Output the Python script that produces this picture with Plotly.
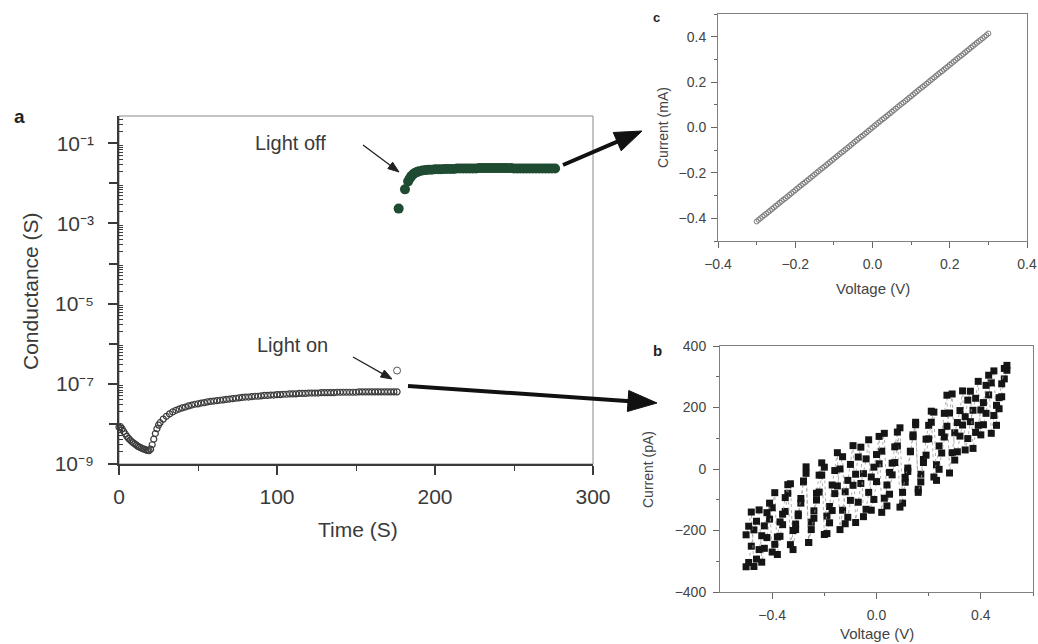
import math
import numpy as np
import plotly.graph_objects as go

W, H = 1038, 644
FONT = "Liberation Sans, Arial, Helvetica, sans-serif"
INK = "#3a3a3a"

# ---------------- panel a : conductance vs time ----------------
time_on = [0, 1, 2, 3, 4, 5, 6, 7, 8, 9, 10, 11, 12, 13, 14, 15, 16, 17, 18, 19,
           20, 21, 22, 23, 24, 25, 26,
           28, 30, 32, 34, 36, 38, 40, 42, 44, 46, 48, 50, 52, 54, 56, 58, 60, 62,
           64, 66, 68, 70, 72, 74, 76, 78, 80, 82, 84, 86, 88, 90, 92, 94, 96, 98,
           100, 102, 104, 106, 108, 110, 112, 114, 116, 118, 120, 122, 124, 126,
           128, 130, 132, 134, 136, 138, 140, 142, 144, 146, 148, 150, 152, 154,
           156, 158, 160, 162, 164, 166, 168, 170, 172, 174, 176]
log_g_on = [-8.08, -8.07, -8.12, -8.19, -8.25, -8.31, -8.36, -8.40, -8.44, -8.47,
            -8.50, -8.53, -8.56, -8.58, -8.60, -8.62, -8.63, -8.65, -8.66, -8.67,
            -8.63, -8.52, -8.38, -8.24, -8.12, -8.03, -7.97,
            -7.88, -7.81, -7.75, -7.70, -7.66, -7.63, -7.60, -7.58, -7.55, -7.53,
            -7.51, -7.50, -7.48, -7.47, -7.45, -7.44, -7.43, -7.42, -7.41, -7.40,
            -7.39, -7.38, -7.37, -7.36, -7.35, -7.34, -7.33, -7.33, -7.32, -7.31,
            -7.31, -7.30, -7.29, -7.29, -7.28, -7.28, -7.27, -7.27, -7.26, -7.26,
            -7.25, -7.25, -7.25, -7.24, -7.24, -7.24, -7.23, -7.23, -7.23, -7.23,
            -7.22, -7.22, -7.22, -7.22, -7.22, -7.21, -7.21, -7.21, -7.21, -7.21,
            -7.21, -7.21, -7.20, -7.20, -7.20, -7.20, -7.20, -7.20, -7.20, -7.20,
            -7.20, -7.20, -7.20, -7.20, -7.20]
time_spike = [176]
log_g_spike = [-6.67]

time_off = [177, 181, 183, 184, 185, 186, 187, 188, 189, 190, 192, 194, 196, 198,
            200, 202, 204, 206, 208, 210, 212, 214, 216, 218, 220, 222, 224, 226,
            228, 230, 232, 234, 236, 238, 240, 242, 244, 246, 248, 250, 252, 254,
            256, 258, 260, 262, 264, 266, 268, 270, 272, 274, 276]
log_g_off = [-2.63, -2.15, -1.95, -1.88, -1.82, -1.78, -1.75, -1.73, -1.71, -1.70,
             -1.68, -1.67, -1.66, -1.66, -1.65, -1.65, -1.65, -1.64, -1.64, -1.64,
             -1.64, -1.63, -1.63, -1.63, -1.63, -1.63, -1.63, -1.63, -1.62, -1.62,
             -1.62, -1.62, -1.62, -1.62, -1.62, -1.62, -1.62, -1.62, -1.62, -1.63,
             -1.63, -1.63, -1.63, -1.63, -1.63, -1.63, -1.63, -1.63, -1.63, -1.63,
             -1.63, -1.63, -1.63]

labelled_exponents = [-9, -7, -5, -3, -1]
unlabelled_exponents = [-8, -6, -4, -2]
time_ticks = [0, 100, 200, 300]

# ---------------- panel c : I-V, light off (mA) ----------------
volt_c = [-0.300, -0.295, -0.290, -0.285, -0.280, -0.275, -0.270, -0.265, -0.260, -0.255,
          -0.250, -0.245, -0.240, -0.235, -0.230, -0.225, -0.220, -0.215, -0.210, -0.205,
          -0.200, -0.195, -0.190, -0.185, -0.180, -0.175, -0.170, -0.165, -0.160, -0.155,
          -0.150, -0.145, -0.140, -0.135, -0.130, -0.125, -0.120, -0.115, -0.110, -0.105,
          -0.100, -0.095, -0.090, -0.085, -0.080, -0.075, -0.070, -0.065, -0.060, -0.055,
          -0.050, -0.045, -0.040, -0.035, -0.030, -0.025, -0.020, -0.015, -0.010, -0.005,
          0.000,
          0.005, 0.010, 0.015, 0.020, 0.025, 0.030, 0.035, 0.040, 0.045, 0.050,
          0.055, 0.060, 0.065, 0.070, 0.075, 0.080, 0.085, 0.090, 0.095, 0.100,
          0.105, 0.110, 0.115, 0.120, 0.125, 0.130, 0.135, 0.140, 0.145, 0.150,
          0.155, 0.160, 0.165, 0.170, 0.175, 0.180, 0.185, 0.190, 0.195, 0.200,
          0.205, 0.210, 0.215, 0.220, 0.225, 0.230, 0.235, 0.240, 0.245, 0.250,
          0.255, 0.260, 0.265, 0.270, 0.275, 0.280, 0.285, 0.290, 0.295, 0.300]
current_c = [-0.414, -0.407, -0.400, -0.393, -0.386, -0.380, -0.373, -0.366, -0.359, -0.352,
             -0.345, -0.338, -0.331, -0.324, -0.317, -0.311, -0.304, -0.297, -0.290, -0.283,
             -0.276, -0.269, -0.262, -0.255, -0.248, -0.242, -0.235, -0.228, -0.221, -0.214,
             -0.207, -0.200, -0.193, -0.186, -0.179, -0.173, -0.166, -0.159, -0.152, -0.145,
             -0.138, -0.131, -0.124, -0.117, -0.110, -0.104, -0.097, -0.090, -0.083, -0.076,
             -0.069, -0.062, -0.055, -0.048, -0.041, -0.035, -0.028, -0.021, -0.014, -0.007,
             0.000,
             0.007, 0.014, 0.021, 0.028, 0.035, 0.041, 0.048, 0.055, 0.062, 0.069,
             0.076, 0.083, 0.090, 0.097, 0.104, 0.110, 0.117, 0.124, 0.131, 0.138,
             0.145, 0.152, 0.159, 0.166, 0.173, 0.179, 0.186, 0.193, 0.200, 0.207,
             0.214, 0.221, 0.228, 0.235, 0.242, 0.248, 0.255, 0.262, 0.269, 0.276,
             0.283, 0.290, 0.297, 0.304, 0.311, 0.317, 0.324, 0.331, 0.338, 0.345,
             0.352, 0.359, 0.366, 0.373, 0.380, 0.386, 0.393, 0.400, 0.407, 0.414]

# ---------------- panel b : I-V, light on (pA) ----------------
volt_sweep = [-0.50, -0.49, -0.48, -0.47, -0.46, -0.45, -0.44, -0.43, -0.42, -0.41,
              -0.40, -0.39, -0.38, -0.37, -0.36, -0.35, -0.34, -0.33, -0.32, -0.31,
              -0.30, -0.29, -0.28, -0.27, -0.26, -0.25, -0.24, -0.23, -0.22, -0.21,
              -0.20, -0.19, -0.18, -0.17, -0.16, -0.15, -0.14, -0.13, -0.12, -0.11,
              -0.10, -0.09, -0.08, -0.07, -0.06, -0.05, -0.04, -0.03, -0.02, -0.01,
              0.00, 0.01, 0.02, 0.03, 0.04, 0.05, 0.06, 0.07, 0.08, 0.09,
              0.10, 0.11, 0.12, 0.13, 0.14, 0.15, 0.16, 0.17, 0.18, 0.19,
              0.20, 0.21, 0.22, 0.23, 0.24, 0.25, 0.26, 0.27, 0.28, 0.29,
              0.30, 0.31, 0.32, 0.33, 0.34, 0.35, 0.36, 0.37, 0.38, 0.39,
              0.40, 0.41, 0.42, 0.43, 0.44, 0.45, 0.46, 0.47, 0.48, 0.49, 0.50]
current_fwd = [-318, -304, -251, -198, -170, -133, -303, -258, -223, -163,
               -126, -77, -278, -219, -181, -138, -79, -48, -262, -197,
               -152, -111, -42, 7, -239, -173, -136, -79, -20, 20,
               -213, -153, -122, -52, -5, 53, -197, -134, -74, -37,
               15, 76, -174, -108, -47, -15, 33, 95, -134, -99,
               -41, 17, 58, 116, -120, -82, -19, 21, 75, 134,
               -111, -43, -8, 58, 105, 152, -66, -17, 31, 97,
               142, 188, -26, 14, 75, 119, 181, 240, -13, 53,
               118, 151, 190, 254, 62, 99, 154, 191, 230, 285,
               111, 144, 181, 241, 280, 319, 142, 196, 235, 293, 321]
# return sweep, +0.5 V back to -0.5 V
current_bwd = [337, 327, 277, 232, 207, 174, 116, 305, 272, 216,
               192, 142, 119, 67, 253, 224, 170, 143, 107, 56,
               29, 244, 182, 139, 104, 52, -1, -37, 185, 152,
               98, 45, 21, -42, -76, 144, 111, 56, 3, -27,
               -76, -124, 120, 72, 19, -11, -52, -95, -141, 106,
               47, 6, -26, -76, -131, -155, 71, 39, -17, -53,
               -102, -157, -178, 40, 0, -55, -80, -135, -175, -210,
               6, -20, -75, -101, -160, -197, -239, -14, -39, -96,
               -146, -179, -200, -246, -51, -93, -147, -172, -221, -245,
               -270, -111, -142, -185, -217, -262, -293, -317, -140, -186, -214]

SUPERSCRIPT = str.maketrans("-0123456789", "\u207b\u2070\u00b9\u00b2\u00b3\u2074\u2075\u2076\u2077\u2078\u2079")


def to_paper(x, y):
    return x / W, 1 - y / H


def arrow(x0, y0, x1, y1, lw, head_len, head_w, color):
    """Straight arrow between two page positions (pixels), drawn as shapes."""
    dx, dy = x1 - x0, y1 - y0
    length = math.hypot(dx, dy)
    ux, uy = dx / length, dy / length
    bx, by = x1 - ux * head_len, y1 - uy * head_len
    nx, ny = -uy, ux
    a = to_paper(x0, y0)
    b = to_paper(bx + ux * 2, by + uy * 2)
    tip = to_paper(x1, y1)
    c1 = to_paper(bx + nx * head_w / 2, by + ny * head_w / 2)
    c2 = to_paper(bx - nx * head_w / 2, by - ny * head_w / 2)
    line = dict(type="line", xref="paper", yref="paper",
                x0=a[0], y0=a[1], x1=b[0], y1=b[1],
                line=dict(color=color, width=lw))
    head = dict(type="path", xref="paper", yref="paper",
                path=f"M{tip[0]},{tip[1]} L{c1[0]},{c1[1]} L{c2[0]},{c2[1]} Z",
                fillcolor=color, line=dict(color=color, width=1))
    return [line, head]


fig = go.Figure()

# panel a traces
fig.add_trace(go.Scatter(
    x=time_on, y=10 ** np.array(log_g_on), mode="markers", cliponaxis=False,
    marker=dict(symbol="circle-open", size=6, color="#3c3c3c", line=dict(width=1.2)),
    xaxis="x", yaxis="y"))
fig.add_trace(go.Scatter(
    x=time_spike, y=10 ** np.array(log_g_spike), mode="markers", cliponaxis=False,
    marker=dict(symbol="circle-open", size=7, color="#555555", line=dict(width=1)),
    xaxis="x", yaxis="y"))
fig.add_trace(go.Scatter(
    x=time_off, y=10 ** np.array(log_g_off), mode="markers", cliponaxis=False,
    marker=dict(symbol="circle", size=10, color="#1e4b31"),
    xaxis="x", yaxis="y"))
# carrier for the unlabelled decade ticks
fig.add_trace(go.Scatter(x=[], y=[], mode="markers", xaxis="x", yaxis="y4",
                         hoverinfo="skip"))

# panel c trace
fig.add_trace(go.Scatter(
    x=volt_c, y=current_c, mode="markers",
    marker=dict(symbol="circle-open", size=5, color="#7a7a7a", line=dict(width=1)),
    xaxis="x2", yaxis="y2"))

# panel b traces
for cur, volts in ((current_fwd, volt_sweep), (current_bwd, volt_sweep[::-1])):
    fig.add_trace(go.Scatter(
        x=volts, y=cur, mode="lines+markers",
        line=dict(color="#9a9a9a", width=0.8, dash="dot"),
        marker=dict(symbol="square", size=7, color="#151515"),
        xaxis="x3", yaxis="y3"))

labelled_vals = [10.0 ** e for e in labelled_exponents]
labelled_text = ["10" + str(e).translate(SUPERSCRIPT) for e in labelled_exponents]
unlabelled_vals = [10.0 ** e for e in unlabelled_exponents]
minor_log = [m * 10.0 ** e for e in range(-9, -1 + 1) for m in range(2, 10)]

big_tick_font = dict(family=FONT, size=21, color=INK)
small_tick_font = dict(family=FONT, size=14, color="#444444")
Y_RANGE_A = [-9, -0.32]


def minus(v, fmt):
    return (fmt % v).replace("-", "\u2212")


fig.update_layout(
    width=W, height=H, margin=dict(l=0, r=0, t=0, b=0),
    paper_bgcolor="white", plot_bgcolor="white", showlegend=False,
    font=dict(family=FONT, color=INK),
    xaxis=dict(
        domain=[119 / W, 593 / W], anchor="y", range=[0, 300], automargin=False,
        showline=True, linecolor=INK, linewidth=1.5, showgrid=False, zeroline=False,
        ticks="outside", ticklen=9, tickwidth=1.5, tickcolor=INK,
        tickmode="array", tickvals=time_ticks, tickfont=big_tick_font,
        ticklabelstandoff=4,
        minor=dict(tickmode="array", tickvals=[50, 150, 250], ticks="outside",
                   ticklen=5, tickwidth=1.2, tickcolor=INK)),
    yaxis=dict(
        domain=[1 - 464 / H, 1 - 116 / H], anchor="x", type="log", range=Y_RANGE_A,
        automargin=False,
        showline=True, linecolor=INK, linewidth=1.5, showgrid=False, zeroline=False,
        ticks="outside", ticklen=9, tickwidth=1.5, tickcolor=INK,
        tickmode="array", tickvals=labelled_vals, ticktext=labelled_text,
        tickfont=dict(family=FONT, size=21, color=INK),
        ticklabelstandoff=10,
        minor=dict(tickmode="array", tickvals=minor_log, ticks="inside",
                   ticklen=4, tickwidth=1, tickcolor=INK)),
    yaxis4=dict(
        overlaying="y", anchor="x", side="left", type="log", range=Y_RANGE_A,
        automargin=False, showline=False, showgrid=False, zeroline=False,
        showticklabels=False, ticks="outside", ticklen=9, tickwidth=1.5,
        tickcolor=INK, tickmode="array", tickvals=unlabelled_vals),
    xaxis2=dict(
        domain=[718 / W, 1027 / W], anchor="y2", range=[-0.4, 0.4], automargin=False,
        showline=True, mirror=True, linecolor="#808080", linewidth=1,
        showgrid=False, zeroline=False, ticks="outside", ticklen=6, tickcolor="#666666",
        tickmode="array", tickvals=[-0.4, -0.2, 0.0, 0.2, 0.4],
        ticktext=[minus(v, "%.1f") for v in [-0.4, -0.2, 0.0, 0.2, 0.4]],
        tickfont=small_tick_font, ticklabelstandoff=4,
        minor=dict(tickmode="array", tickvals=[-0.3, -0.1, 0.1, 0.3], ticks="outside",
                   ticklen=3, tickcolor="#666666")),
    yaxis2=dict(
        domain=[1 - 241 / H, 1 - 14 / H], anchor="x2", range=[-0.5, 0.5],
        automargin=False,
        showline=True, mirror=True, linecolor="#808080", linewidth=1,
        showgrid=False, zeroline=False, ticks="outside", ticklen=6, tickcolor="#666666",
        tickmode="array", tickvals=[-0.4, -0.2, 0.0, 0.2, 0.4],
        ticktext=[minus(v, "%.1f") for v in [-0.4, -0.2, 0.0, 0.2, 0.4]],
        tickfont=small_tick_font, ticklabelstandoff=2,
        minor=dict(tickmode="array", tickvals=[-0.5, -0.3, -0.1, 0.1, 0.3, 0.5],
                   ticks="outside", ticklen=3, tickcolor="#666666")),
    xaxis3=dict(
        domain=[720 / W, 1033 / W], anchor="y3", range=[-0.6, 0.6], automargin=False,
        showline=True, mirror=True, linecolor="#808080", linewidth=1,
        showgrid=False, zeroline=False, ticks="outside", ticklen=6, tickcolor="#666666",
        tickmode="array", tickvals=[-0.4, 0.0, 0.4],
        ticktext=[minus(v, "%.1f") for v in [-0.4, 0.0, 0.4]],
        tickfont=small_tick_font, ticklabelstandoff=4,
        minor=dict(tickmode="array", tickvals=[-0.2, 0.2, 0.6], ticks="outside",
                   ticklen=3, tickcolor="#666666")),
    yaxis3=dict(
        domain=[1 - 592 / H, 1 - 346 / H], anchor="x3", range=[-400, 400],
        automargin=False,
        showline=True, mirror=True, linecolor="#808080", linewidth=1,
        showgrid=False, zeroline=False, ticks="outside", ticklen=6, tickcolor="#666666",
        tickmode="array", tickvals=[-400, -200, 0, 200, 400],
        ticktext=[minus(v, "%d") for v in [-400, -200, 0, 200, 400]],
        tickfont=small_tick_font, ticklabelstandoff=4,
        minor=dict(tickmode="array", tickvals=[-300, -100, 100, 300],
                   ticks="outside", ticklen=3, tickcolor="#666666")),
)


def label(text, x, y, size, angle=0, bold=False, color=INK):
    px, py = to_paper(x, y)
    return dict(text=f"<b>{text}</b>" if bold else text, x=px, y=py,
                xref="paper", yref="paper", showarrow=False, textangle=angle,
                xanchor="center", yanchor="middle",
                font=dict(family=FONT, size=size, color=color))


fig.update_layout(annotations=[
    label("a", 19, 116, 19, bold=True, color="#222222"),
    label("c", 656, 17, 13, bold=True, color="#222222"),
    label("b", 657, 350, 15, bold=True, color="#222222"),
    label("Time (S)", 358, 529, 21),
    label("Conductance (S)", 30, 291, 21, angle=-90),
    label("Light off", 290, 143, 20),
    label("Light on", 292, 345, 20),
    label("Current (mA)", 663, 128, 14, angle=-90, color="#444444"),
    label("Voltage (V)", 873, 289, 15, color="#444444"),
    label("Current (pA)", 648, 470, 14, angle=-90, color="#444444"),
    label("Voltage (V)", 877, 633, 15, color="#444444"),
])

shapes = [dict(type="rect", xref="x domain", yref="y domain", x0=0, y0=0, x1=1, y1=1,
               line=dict(color="#8a8a8a", width=1), layer="below")]
shapes += arrow(363, 145, 399, 172, 1.3, 11, 8, "#222222")
shapes += arrow(353, 357, 392, 379, 1.3, 11, 8, "#222222")
shapes += arrow(563, 165, 642, 131, 4, 27, 20, "#111111")
shapes += arrow(408, 386, 657, 403, 4, 29, 21, "#111111")
fig.update_layout(shapes=shapes)

fig.write_html("out.html")
